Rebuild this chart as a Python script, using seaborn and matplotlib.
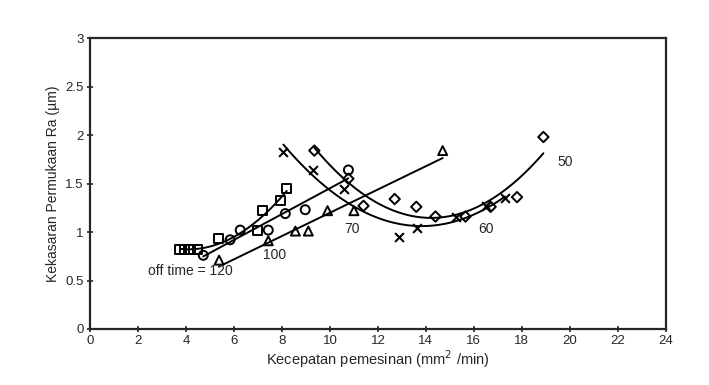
import pandas as pd
import matplotlib
matplotlib.use("Agg")
import matplotlib.pyplot as plt
import seaborn as sns

# off time = 120 (squares)
x_120 = [3.75, 3.95, 4.2, 4.5, 5.35, 6.97, 7.2, 7.93, 8.2]
y_120 = [0.82, 0.82, 0.82, 0.82, 0.93, 1.02, 1.22, 1.33, 1.45]

# off time = 100 (circles)
x_100 = [4.72, 5.84, 6.26, 7.43, 8.14, 8.97, 10.77]
y_100 = [0.76, 0.92, 1.02, 1.02, 1.19, 1.23, 1.64]

# off time = 70 (triangles)
x_70 = [5.38, 7.43, 8.56, 9.1, 9.9, 11.0, 14.7]
y_70 = [0.71, 0.91, 1.01, 1.01, 1.22, 1.22, 1.84]

# off time = 60 (crosses)
x_60 = [8.06, 9.3, 10.57, 12.86, 13.63, 15.27, 16.5, 17.3]
y_60 = [1.83, 1.64, 1.44, 0.95, 1.04, 1.16, 1.27, 1.35]

# off time = 50 (diamonds)
x_50 = [9.35, 10.77, 11.4, 12.7, 13.6, 14.4, 15.65, 16.7, 17.8, 18.9]
y_50 = [1.84, 1.55, 1.27, 1.34, 1.26, 1.16, 1.16, 1.26, 1.36, 1.98]

x_ticks = list(range(0, 25, 2))
y_ticks = [0, 0.5, 1, 1.5, 2, 2.5, 3]

series = [
    ("120", x_120, y_120, "s", 2),
    ("100", x_100, y_100, "o", 1),
    ("70", x_70, y_70, "^", 1),
    ("60", x_60, y_60, "x", 2),
    ("50", x_50, y_50, "D", 2),
]

sns.set_style("ticks")
plt.rcParams["font.family"] = ["Liberation Sans", "DejaVu Sans"]

fig = plt.figure(figsize=(7.09, 3.85), dpi=100)
ax = fig.add_axes([0.127, 0.1455, 0.812, 0.7555])

for name, xs, ys, mk, order in series:
    df = pd.DataFrame({"x": xs, "y": ys})
    # fitted trend line
    sns.regplot(data=df, x="x", y="y", order=order, ci=None, scatter=False,
                color="black", line_kws={"lw": 1.4}, ax=ax)
    if mk == "x":
        sns.scatterplot(data=df, x="x", y="y", marker="x", color="black",
                        s=40, linewidth=1.5, ax=ax, zorder=3)
    else:
        sns.scatterplot(data=df, x="x", y="y", marker=mk, facecolor="none",
                        edgecolor="black", s=42 if mk != "D" else 28,
                        linewidth=1.4, ax=ax, zorder=3)

# curve labels
ax.text(2.4, 0.56, "off time = 120", fontsize=10)
ax.text(7.2, 0.72, "100", fontsize=10)
ax.text(10.6, 0.99, "70", fontsize=10)
ax.text(16.2, 0.99, "60", fontsize=10)
ax.text(19.5, 1.68, "50", fontsize=10)

ax.set_xlim(0, 24)
ax.set_ylim(0, 3)
ax.set_xticks(x_ticks)
ax.set_yticks(y_ticks)
ax.set_xticklabels([str(t) for t in x_ticks])
ax.set_yticklabels(["0", "0.5", "1", "1.5", "2", "2.5", "3"])
ax.tick_params(direction="inout", length=5, width=1.2, labelsize=9.5, pad=2)
for sp in ax.spines.values():
    sp.set_linewidth(1.6)
    sp.set_visible(True)

ax.set_xlabel("Kecepatan pemesinan (mm$^2$ /min)", fontsize=10.5, labelpad=1)
ax.set_ylabel("Kekasaran Permukaan Ra (µm)", fontsize=10, labelpad=4)

fig.savefig("out.png", dpi=100)
